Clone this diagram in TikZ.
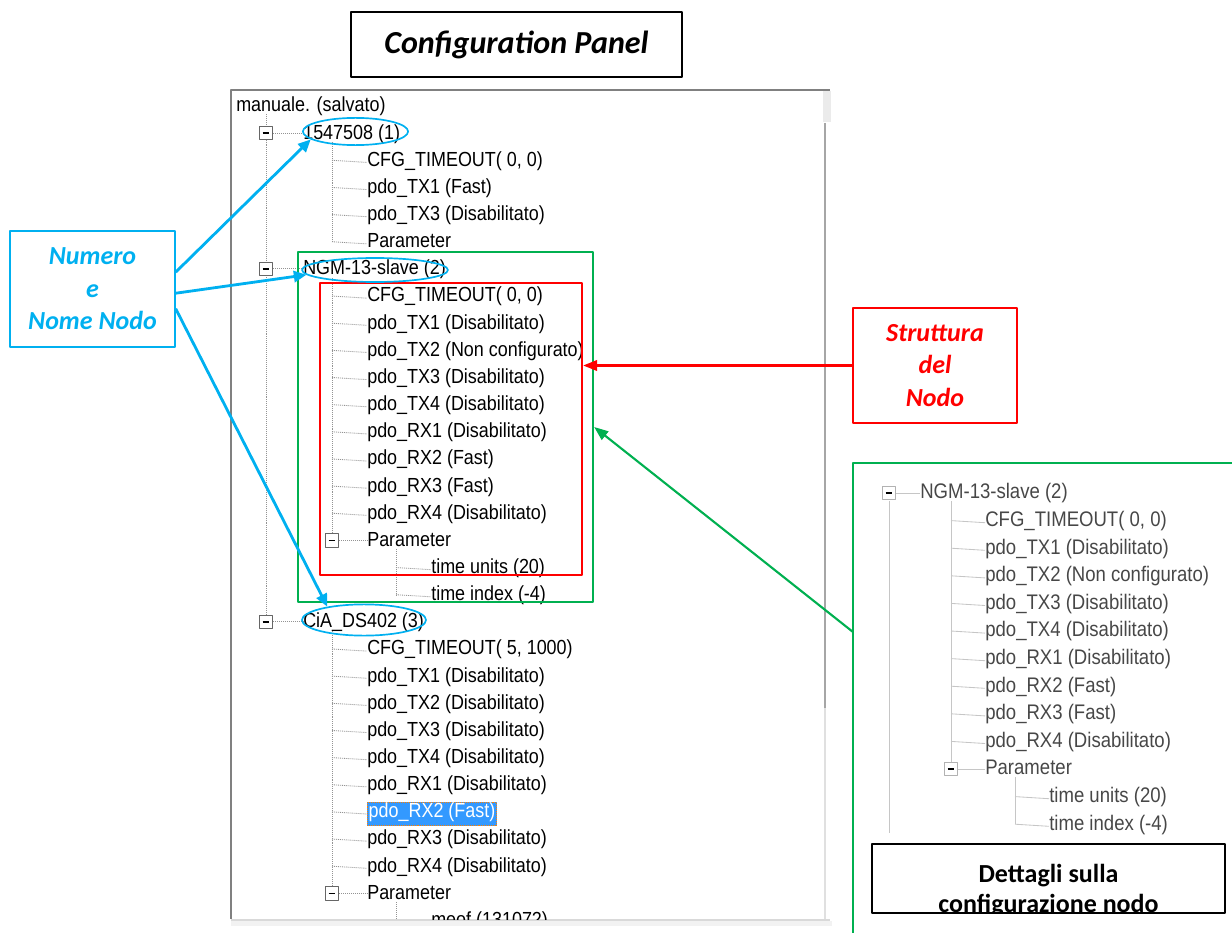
\documentclass[tikz,border=0pt]{standalone}
\usepackage{fontspec}
\setmainfont{Carlito}
\newfontfamily\treefont[FakeStretch=0.88]{Liberation Sans}
\usetikzlibrary{arrows.meta,shapes.geometric}

\definecolor{numcyan}{HTML}{00B0F0}
\definecolor{strred}{HTML}{FF0000}
\definecolor{detgreen}{HTML}{00B050}
\definecolor{selblue}{HTML}{3399FF}

% row heights of the two trees
\newcommand\ry[1]{106+27.15*#1}
\newcommand\dy[1]{493+27.6*#1}

% tree leaves: [style] name, x of the branch, y, text
\newcommand\leaf[5][item]{%
  \node[#1] (#2) at ({#3+35},{#4}) {#5};
  \draw[dots] (#3,{#4}) -- (#2.west);}
\newcommand\dleaf[4]{%
  \node[ditem] (#1) at ({#2+34},{#3}) {#4};
  \draw[dline] (#2,{#3}) -- (#1.west);}

\begin{document}
\begin{tikzpicture}[x=0.025cm, y=-0.025cm, line join=round,
  every node/.style={inner sep=0pt},
  lab/.style={draw, line width=1pt, align=center, font=\fontsize{18.5}{23}\selectfont\bfseries\itshape},
  item/.style={anchor=west, text height=0.75em, text depth=0.21em, text=black, yshift=-1.5pt, font=\treefont\fontsize{14.5}{14.5}\selectfont},
  ditem/.style={item, text=black!72, font=\treefont\fontsize{15}{15}\selectfont},
  sel/.style={item, fill=selblue, text=white, draw=orange, densely dotted, inner xsep=1pt, inner ysep=3.5pt},
  dots/.style={draw=gray!85, line width=0.6pt, dash pattern=on 0.7pt off 0.7pt},
  dline/.style={draw=gray!45, line width=0.6pt},
  expander/.style={draw=gray!80!black, fill=white, minimum size=9.5pt, line width=0.7pt,
    path picture={\draw[black, line width=1pt] ([xshift=2.3pt]path picture bounding box.west) -- ([xshift=-2.3pt]path picture bounding box.east);}},
  ell/.style={draw=numcyan, ellipse, line width=1.2pt},
  cyanarrow/.style={draw=numcyan, line width=2pt, -{Triangle[length=9pt,width=8pt]}},
]
\useasboundingbox (0,0) rectangle (1232,933);

% window of the panel
\fill[black!8] (823,91) rectangle (831,122);
\fill[black!5] (231,921) rectangle (832,926);
\draw[gray, line width=1.2pt] (830,90) -- (231,90) -- (231,919);
\draw[black!15, line width=1pt] (231,920) -- (830,920);
\draw[black!35, line width=1.3pt] (825,123) -- (825,708);
\draw[black!12, line width=1pt] (825,708) -- (825,919);

\begin{scope}
\clip (233,91) rectangle (823,919);
\node[item] (root) at (236,{\ry{0}}) {manuale. (salvato)};
\draw[dots] (266,114) -- (266,{\ry{19}});

% node 1
\node[expander] (x1) at (266,{\ry{1}}) {};
\node[item] (n1) at (303,{\ry{1}}) {1547508 (1)};
\draw[dots] (x1) -- (n1.west |- x1);
\draw[dots] (332,{\ry{1}+9}) -- (332,{\ry{5}});
\foreach \t [count=\i from 2] in {{CFG\_TIMEOUT( 0, 0)},pdo\_TX1 (Fast),pdo\_TX3 (Disabilitato),Parameter}
  \leaf{a\i}{332}{\ry{\i}}{\t};

% node 2
\node[expander] (x2) at (266,{\ry{6}}) {};
\node[item] (n2) at (303,{\ry{6}}) {NGM-13-slave (2)};
\draw[dots] (x2) -- (n2.west |- x2);
\draw[dots] (332,{\ry{6}+9}) -- (332,{\ry{16}});
\foreach \t [count=\i from 7] in {{CFG\_TIMEOUT( 0, 0)},pdo\_TX1 (Disabilitato),pdo\_TX2 (Non configurato),pdo\_TX3 (Disabilitato),pdo\_TX4 (Disabilitato),pdo\_RX1 (Disabilitato),pdo\_RX2 (Fast),pdo\_RX3 (Fast),pdo\_RX4 (Disabilitato)}
  \leaf{b\i}{332}{\ry{\i}}{\t};
\node[expander] (x2p) at (332,{\ry{16}}) {};
\node[item] (b16) at (367,{\ry{16}}) {Parameter};
\draw[dots] (x2p) -- (b16.west |- x2p);
\draw[dots] (396,{\ry{16}+9}) -- (396,{\ry{18}});
\leaf{b17}{396}{\ry{17}}{time units (20)}
\leaf{b18}{396}{\ry{18}}{time index (-4)}

% node 3
\node[expander] (x3) at (266,{\ry{19}}) {};
\node[item] (n3) at (303,{\ry{19}}) {CiA\_DS402 (3)};
\draw[dots] (x3) -- (n3.west |- x3);
\draw[dots] (332,{\ry{19}+9}) -- (332,{\ry{29}});
\foreach \t [count=\i from 20] in {{CFG\_TIMEOUT( 5, 1000)},pdo\_TX1 (Disabilitato),pdo\_TX2 (Disabilitato),pdo\_TX3 (Disabilitato),pdo\_TX4 (Disabilitato),pdo\_RX1 (Disabilitato)}
  \leaf{c\i}{332}{\ry{\i}}{\t};
\leaf[sel]{c26}{332}{\ry{26}}{pdo\_RX2 (Fast)}
\leaf{c27}{332}{\ry{27}}{pdo\_RX3 (Disabilitato)}
\leaf{c28}{332}{\ry{28}}{pdo\_RX4 (Disabilitato)}
\node[expander] (x3p) at (332,{\ry{29}}) {};
\node[item] (c29) at (367,{\ry{29}}) {Parameter};
\draw[dots] (x3p) -- (c29.west |- x3p);
\draw[dots] (396,{\ry{29}+9}) -- (396,{\ry{30}});
\leaf{c30}{396}{\ry{30}}{meof (131072)}
\end{scope}

% detail of node 2
\draw[dline] (889,{\dy{0}+8}) -- (889,833);
\node[expander, draw=gray!60] (dx) at (889,{\dy{0}}) {};
\node[ditem] (d0) at (920,{\dy{0}}) {NGM-13-slave (2)};
\draw[dline] (dx) -- (d0.west |- dx);
\draw[dline] (951,{\dy{0}+8}) -- (951,{\dy{10}});
\foreach \t [count=\i] in {{CFG\_TIMEOUT( 0, 0)},pdo\_TX1 (Disabilitato),pdo\_TX2 (Non configurato),pdo\_TX3 (Disabilitato),pdo\_TX4 (Disabilitato),pdo\_RX1 (Disabilitato),pdo\_RX2 (Fast),pdo\_RX3 (Fast),pdo\_RX4 (Disabilitato)}
  \dleaf{d\i}{951}{\dy{\i}}{\t};
\node[expander, draw=gray!60] (dxp) at (951,{\dy{10}}) {};
\node[ditem] (d10) at (985,{\dy{10}}) {Parameter};
\draw[dline] (dxp) -- (d10.west |- dxp);
\draw[dline] (1015,{\dy{10}+8}) -- (1015,{\dy{12}});
\dleaf{d11}{1015}{\dy{11}}{time units (20)}
\dleaf{d12}{1015}{\dy{12}}{time index (-4)}

% frames and ellipses
\node[draw=detgreen, line width=1.6pt, minimum width=7.375cm, minimum height=8.75cm] (greenbox) at (445.5,427) {};
\node[draw=strred, line width=1.6pt, minimum width=6.55cm, minimum height=7.3cm] (redbox) at (451,429) {};
\node[ell, minimum width=2.63cm, minimum height=0.68cm] (e1) at (355.5,131.5) {};
\node[ell, minimum width=3.65cm, minimum height=0.6cm] (e2) at (375,270) {};
\node[ell, minimum width=3.1cm, minimum height=0.78cm] (e3) at (364,620) {};
\coordinate (gtop) at (1232,463);
\coordinate (gcorner) at (853,463);
\coordinate (gbottom) at (853,933);
\draw[detgreen, line width=1.2pt] (gtop) -- (gcorner) -- (gbottom);

% labels
\node[lab, minimum width=8.275cm, minimum height=1.625cm, font=\fontsize{22.8}{26}\selectfont\bfseries\itshape] (title) at (516.5,44.5) {Configuration Panel};
\node[lab, draw=numcyan, text=numcyan, minimum width=4.125cm, minimum height=2.9cm] (numero) at (92.5,289) {Numero\\e\\Nome Nodo};
\node[lab, draw=strred, text=strred, minimum width=4.1cm, minimum height=2.875cm] (struttura) at (935,365.5) {Struttura\\del\\Nodo};
\node[draw, line width=1pt, fill=white, minimum width=8.825cm, minimum height=1.725cm] (dbox) at (1048.5,878.5) {};
\begin{scope}
\clip (872,844) rectangle (1225,912);
\node[anchor=base, font=\fontsize{18.5}{21}\selectfont\bfseries] (dtxt1) at (1048.5,882) {Dettagli sulla};
\node[anchor=base, font=\fontsize{18.5}{21}\selectfont\bfseries] (dtxt2) at (1048.5,912) {configurazione nodo};
\end{scope}

% connectors
\draw[cyanarrow] ([yshift=12pt]numero.east) -- (e1.190);
\draw[cyanarrow] ([yshift=-3pt]numero.east) -- (e2.184);
\draw[cyanarrow] ([yshift=-14pt]numero.east) -- (e3.160);
\draw[strred, line width=1.7pt, -{Triangle[length=10pt,width=7.5pt]}] (struttura.west) -- (struttura.west -| redbox.east);
\coordinate (gstart) at (853,632);
\draw[detgreen, line width=1.5pt, -{Triangle[length=10pt,width=7.5pt]}] (gstart) -- (greenbox.east);
\end{tikzpicture}
\end{document}
